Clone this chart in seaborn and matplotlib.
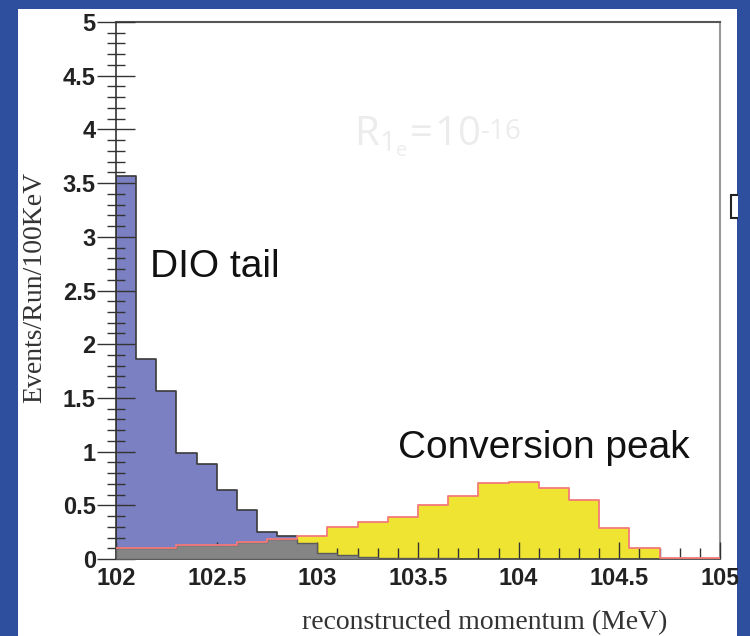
import numpy as np
import pandas as pd
import matplotlib
matplotlib.use("Agg")
import matplotlib.pyplot as plt
from matplotlib.patches import Rectangle
import seaborn as sns

# ---- data ----
dio_edges = [round(102.0 + 0.1 * i, 2) for i in range(31)]      # 100 keV bins
dio_values = [3.57, 1.86, 1.56, 0.99, 0.88, 0.64, 0.46, 0.25, 0.21, 0.15,
              0.06, 0.04, 0.02, 0.005, 0.005, 0.005, 0.005, 0.0, 0.0, 0.0,
              0.0, 0.0, 0.0, 0.0, 0.0, 0.0, 0.0, 0.0, 0.0, 0.0]
conv_edges = [round(102.0 + 0.15 * i, 2) for i in range(21)]    # 150 keV bins
conv_values = [0.10, 0.10, 0.135, 0.135, 0.155, 0.185, 0.215, 0.295, 0.34, 0.39,
               0.50, 0.59, 0.71, 0.72, 0.66, 0.55, 0.29, 0.105, 0.012, 0.005]
x_ticks = [102, 102.5, 103, 103.5, 104, 104.5, 105]
x_tick_labels = ["102", "102.5", "103", "103.5", "104", "104.5", "105"]
y_ticks = [0, 0.5, 1, 1.5, 2, 2.5, 3, 3.5, 4, 4.5, 5]
y_tick_labels = ["0", "0.5", "1", "1.5", "2", "2.5", "3", "3.5", "4", "4.5", "5"]

de = np.array(dio_edges)
ce = np.array(conv_edges)
dio = pd.DataFrame({"p": (de[:-1] + de[1:]) / 2, "w": dio_values})
conv = pd.DataFrame({"p": (ce[:-1] + ce[1:]) / 2, "w": conv_values})
# overlap of the two histograms on the common 50 keV grid
fine_edges = [round(102.0 + 0.05 * i, 2) for i in range(61)]
fe = np.array(fine_edges)
overlap = pd.DataFrame({"p": (fe[:-1] + fe[1:]) / 2,
                        "w": np.minimum(np.repeat(dio_values, 2), np.repeat(conv_values, 3))})

BG_BLUE = "#2E4F9E"
DIO_C = "#7A80C2"
YEL = "#F0E432"
RED = "#F47A7A"
GRAY = "#858585"

sns.set_theme(style="white")
plt.rcParams["font.family"] = ["Liberation Sans", "DejaVu Sans"]

fig = plt.figure(figsize=(7.5, 6.36), dpi=100)
fig.patch.set_facecolor(BG_BLUE)
# white slide panel
fig.add_artist(Rectangle((18 / 750, 0), (737 - 18) / 750, (636 - 9) / 636,
                         transform=fig.transFigure, facecolor="white",
                         edgecolor="none", zorder=-5))

ax = fig.add_axes([116 / 750, (636 - 559) / 636, 604 / 750, 537 / 636])
ax.set_facecolor("white")

sns.histplot(data=dio, x="p", weights="w", bins=dio_edges, element="step",
             fill=True, color=DIO_C, alpha=1.0, edgecolor="#3a3a3a",
             linewidth=1.2, ax=ax, zorder=1)
sns.histplot(data=conv, x="p", weights="w", bins=conv_edges, element="step",
             fill=True, color=YEL, alpha=1.0, edgecolor="none",
             linewidth=0, ax=ax, zorder=2)
sns.histplot(data=overlap, x="p", weights="w", bins=fine_edges, element="step",
             fill=True, color=GRAY, alpha=1.0, edgecolor="#5a5a5a",
             linewidth=1.0, ax=ax, zorder=3)
sns.histplot(data=conv, x="p", weights="w", bins=conv_edges, element="step",
             fill=False, color=RED, linewidth=1.3, ax=ax, zorder=4)

ax.set_xlim(102, 105)
ax.set_ylim(0, 5)
ax.set_xticks(x_ticks)
ax.set_xticklabels(x_tick_labels)
ax.set_yticks(y_ticks)
ax.set_yticklabels(y_tick_labels)
ax.set_xticks(np.arange(102.1, 105.0, 0.1), minor=True)
ax.set_yticks(np.arange(0.1, 5.0, 0.1), minor=True)

ax.tick_params(axis="y", which="major", direction="inout", length=27, width=1.0,
               color="#333333", pad=1, labelsize=17, left=True)
ax.tick_params(axis="y", which="minor", direction="inout", length=13, width=1.0,
               color="#333333", left=True)
ax.tick_params(axis="x", which="major", direction="in", length=12, width=1.0,
               color="#333333", pad=6, labelsize=17, bottom=True)
ax.tick_params(axis="x", which="minor", direction="in", length=8, width=1.0,
               color="#333333", bottom=True)
for lab in ax.get_xticklabels() + ax.get_yticklabels():
    lab.set_fontweight("bold")
    lab.set_color("#222222")
ax.set_axisbelow(False)

for side in ["left", "bottom"]:
    ax.spines[side].set_color("#333333")
    ax.spines[side].set_linewidth(1.2)
for side in ["top", "right"]:
    ax.spines[side].set_color("#999999")
    ax.spines[side].set_linewidth(1.5)
ax.spines["top"].set_color("#555555")

ax.set_xlabel("reconstructed momentum (MeV)", family=["Liberation Serif", "DejaVu Serif"],
              fontsize=20, color="#333333", va="center")
ax.xaxis.set_label_coords((485 - 116) / 604, (559 - 623) / 537)
ax.set_ylabel("Events/Run/100KeV", family=["Liberation Serif", "DejaVu Serif"],
              fontsize=20, color="#333333", va="center")
ax.yaxis.set_label_coords((35 - 116) / 604, (559 - 287) / 537)

ax.text(102.17, 2.72, "DIO tail", fontsize=28, color="#111111", va="center", ha="left")
ax.text(103.4, 1.03, "Conversion peak", fontsize=28, color="#111111", va="center", ha="left")
rtxt = ax.text(103.18, 3.93, r"$\mathregular{R_{1_e}\!=\!10}$", fontsize=29,
               color="#ECECEC", va="center", ha="left", family=["Open Sans", "DejaVu Sans"])
ax.annotate("-16", xy=(1.0, 1.0), xycoords=rtxt, xytext=(1, -2), textcoords="offset points",
            fontsize=20, color="#ECECEC", va="top", ha="left", family=["Open Sans", "DejaVu Sans"])

# small box fragment at the right edge
fig.add_artist(Rectangle((731 / 750, (636 - 218) / 636), 10 / 750, 23 / 636,
                         transform=fig.transFigure, facecolor="white",
                         edgecolor="#222222", linewidth=1.5, zorder=8))
# right blue strip (clips the "105" label like the slide does)
fig.add_artist(Rectangle((737.5 / 750, 0), 13 / 750, 1, transform=fig.transFigure,
                         facecolor=BG_BLUE, edgecolor="none", zorder=10))
fig.add_artist(Rectangle((0, (636 - 9) / 636), 1, 9 / 636, transform=fig.transFigure,
                         facecolor=BG_BLUE, edgecolor="none", zorder=10))

fig.savefig("out.png", dpi=100, facecolor=fig.get_facecolor())
